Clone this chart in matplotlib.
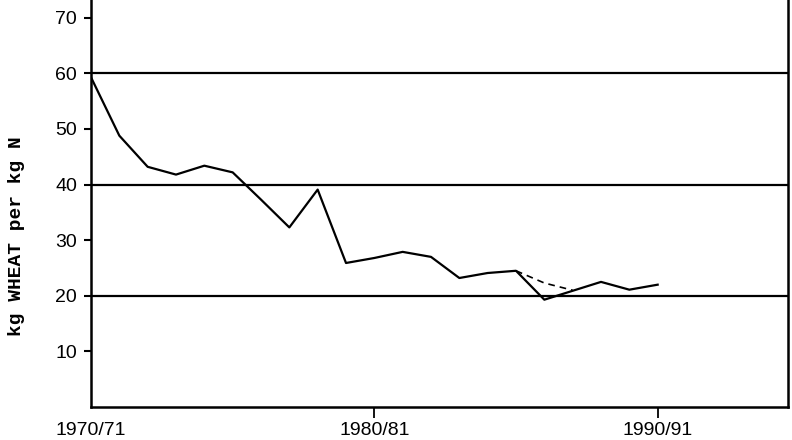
"""
Wheat yield response per kg of nitrogen, 1970/71 onwards
"""
import matplotlib
matplotlib.use('Agg')
import matplotlib.pyplot as plt

# crop years (start year of each season) and kg wheat per kg N
years = list(range(1970, 1991))
kg_wheat = [59.3, 48.8, 43.2, 41.8, 43.4, 42.2, 37.3, 32.3, 39.1, 25.9, 26.8,
            27.9, 27.0, 23.2, 24.1, 24.5, 19.3, 20.9, 22.5, 21.1, 22.0]

# alternative (dashed) estimate for 1985-1987
alt_years = [1985, 1986, 1987]
alt_kg_wheat = [24.5, 22.3, 21.0]

ref_levels = [20, 40, 60]
y_ticks = [10, 20, 30, 40, 50, 60, 70]
x_ticks = [1970, 1980, 1990]
x_labels = ['1970/71', '1980/81', '1990/91']

fig = plt.figure(figsize=(7.92, 4.40), dpi=100)
ax = fig.add_axes([91 / 792, 1 - 407 / 440, 697 / 792, 407 / 440])

for level in ref_levels:
    ax.axhline(level, color='black', linewidth=1.6)

ax.plot(years, kg_wheat, color='black', linewidth=1.6)
ax.plot(alt_years, alt_kg_wheat, color='black', linewidth=1.2,
        linestyle=(0, (4, 3)))

ax.set_xlim(1970, 1994.6)
ax.set_ylim(0, 73.2)

ax.spines['top'].set_visible(False)
for side in ('left', 'right', 'bottom'):
    ax.spines[side].set_linewidth(1.8)

tick_font = {'family': ['Liberation Sans', 'DejaVu Sans'], 'size': 14}
ax.set_yticks(y_ticks)
ax.set_yticklabels([str(v) for v in y_ticks], fontdict=tick_font)
ax.set_xticks(x_ticks)
ax.set_xticklabels(x_labels, fontdict=tick_font)
ax.tick_params(axis='y', direction='out', length=5, width=1.5, pad=5)
ax.tick_params(axis='x', direction='out', length=8, width=1.3, pad=3)
# no tick mark at the origin corner
ax.xaxis.get_major_ticks()[0].tick1line.set_visible(False)

ax.set_ylabel('kg WHEAT per kg N', family=['Liberation Mono', 'DejaVu Sans Mono'],
              fontsize=14, fontweight='bold')
ax.yaxis.set_label_coords(-66 / 697, 0.42)

fig.savefig('out.png', dpi=100)
